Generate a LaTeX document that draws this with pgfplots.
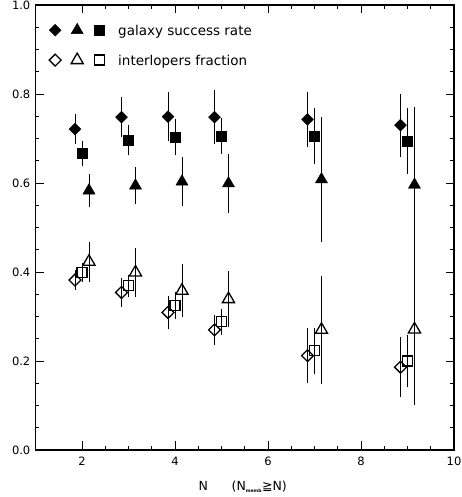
\documentclass[border=0pt]{standalone}
\usepackage{fontspec}
\setmainfont{DejaVu Sans}
\usepackage{pgfplots}
\pgfplotsset{compat=1.18}
\usetikzlibrary{calc,plotmarks}
\begin{document}
\begin{tikzpicture}
\begin{axis}[
  scale only axis,
  width=418.5pt, height=445pt,
  xmin=1, xmax=10, ymin=0, ymax=1,
  xtick={2,4,6,8,10},
  ytick={0,0.2,0.4,0.6,0.8,1.0},
  minor x tick num=3, minor y tick num=3,
  tick align=inside,
  major tick length=8.5pt, minor tick length=4pt,
  axis line style={line width=1.1pt},
  every tick/.style={black, line width=0.9pt},
  /pgf/number format/assume math mode=true,
  tick label style={font=\fontsize{11.5}{13}\selectfont},
  yticklabel style={/pgf/number format/fixed, /pgf/number format/fixed zerofill, /pgf/number format/precision=1, inner sep=0pt, xshift=-5pt},
  xticklabel style={/pgf/number format/fixed, /pgf/number format/precision=0, inner sep=0pt, yshift=-7pt},
  xlabel={N\hspace{1.9em}(N\textsubscript{\fontsize{4.5}{5}\selectfont\bfseries memb}≧N)},
  xlabel style={font=\fontsize{12.5}{14}\selectfont, at={(axis description cs:0.495,0)}, anchor=north, inner sep=0pt, yshift=-31pt},
  legend style={at={(axis description cs:0,1)}, anchor=north west, xshift=13pt, yshift=-18pt,
     draw=none, fill=none, inner sep=0pt, nodes={inner sep=0pt, text depth=0pt},
     row sep=17pt, font=\fontsize{13.5}{15}\selectfont},
  legend cell align=left,
  error bars/y dir=both, error bars/y explicit,
  error bars/error bar style={line width=0.8pt, black},
  error bars/error mark options={line width=0.8pt, mark size=2.2pt, black},
]
\addlegendimage{legend image code/.code={
  \path[draw=none] (-6.5pt,0pt) -- (63pt,0pt);
  \path[draw=black,fill=black] plot[only marks, mark=square*, mark size=4.2pt, mark options={rotate=45}] coordinates {(0pt,0pt)};
  \path[draw=black,fill=black] plot[only marks, mark=triangle*, mark size=7pt] coordinates {(22pt,0pt)};
  \path[draw=black,fill=black] plot[only marks, mark=square*, mark size=5pt] coordinates {(44pt,0pt)};
}}
\addlegendentry{galaxy success rate}
\addlegendimage{legend image code/.code={
  \path[draw=none] (-6.5pt,0pt) -- (63pt,0pt);
  \path[draw=black,line width=1.3pt] plot[only marks, mark=square, mark size=4.2pt, mark options={rotate=45}] coordinates {(0pt,0pt)};
  \path[draw=black,line width=1.3pt] plot[only marks, mark=triangle, mark size=7pt] coordinates {(22pt,0pt)};
  \path[draw=black,line width=1.3pt] plot[only marks, mark=square, mark size=5pt] coordinates {(44pt,0pt)};
}}
\addlegendentry{interlopers fraction}

% galaxy success rate: diamonds
\addplot[black, only marks, mark=square*, mark size=4.2pt, mark options={rotate=45, fill=black}] coordinates {
 (1.85,0.721) +- (0,0.028)
 (2.85,0.748) +- (0,0.040)
 (3.85,0.749) +- (0,0.050)
 (4.85,0.748) +- (0,0.055)
 (6.85,0.743) +- (0,0.057)
 (8.85,0.730) +- (0,0.066)
};
% squares
\addplot[black, only marks, mark=square*, mark size=5pt, mark options={fill=black}] coordinates {
 (2.0,0.667) +- (0,0.023)
 (3.0,0.696) +- (0,0.029)
 (4.0,0.703) +- (0,0.035)
 (5.0,0.706) +- (0,0.035)
 (7.0,0.706) +- (0,0.058)
 (9.0,0.694) +- (0,0.069)
};
% triangles
\addplot[black, only marks, mark=triangle*, mark size=7pt, mark options={fill=black}] coordinates {
 (2.15,0.583) +- (0,0.033)
 (3.15,0.594) +- (0,0.037)
 (4.15,0.603) +- (0,0.050)
 (5.15,0.599) +- (0,0.062)
 (7.15,0.608) +- (0,0.135)
 (9.15,0.596) +- (0,0.170)
};
% interlopers fraction: diamonds
\addplot[black, only marks, mark=square, mark size=4.2pt, mark options={rotate=45, line width=1.3pt}] coordinates {
 (1.85,0.382) +- (0,0.018)
 (2.85,0.354) +- (0,0.027)
 (3.85,0.309) +- (0,0.033)
 (4.85,0.270) +- (0,0.028)
 (6.85,0.212) +- (0,0.057)
 (8.85,0.186) +- (0,0.062)
};
% squares
\addplot[black, only marks, mark=square, mark size=5pt, mark options={line width=1.3pt}] coordinates {
 (2.0,0.399) +- (0,0.016)
 (3.0,0.369) +- (0,0.020)
 (4.0,0.324) +- (0,0.025)
 (5.0,0.288) +- (0,0.024)
 (7.0,0.223) +- (0,0.047)
 (9.0,0.200) +- (0,0.053)
};
% triangles
\addplot[black, only marks, mark=triangle, mark size=7pt, mark options={line width=1.3pt}] coordinates {
 (2.15,0.423) +- (0,0.040)
 (3.15,0.399) +- (0,0.050)
 (4.15,0.358) +- (0,0.055)
 (5.15,0.339) +- (0,0.058)
 (7.15,0.270) +- (0,0.116)
 (9.15,0.271) +- (0,0.165)
};
\end{axis}
\pgfresetboundingbox
\path[use as bounding box] ($(current axis.south west)+(-35.5pt,-47pt)$) rectangle ($(current axis.north east)+(8pt,5pt)$);
\end{tikzpicture}
\end{document}
